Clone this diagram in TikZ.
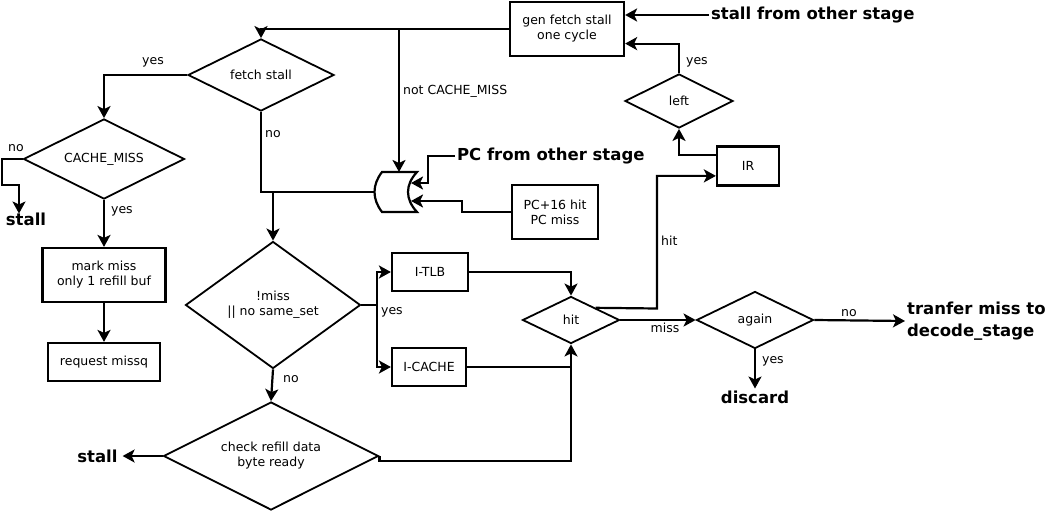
\documentclass[tikz,border=0pt]{standalone}
\usepackage{fontspec}
\setmainfont{DejaVu Sans}
\usetikzlibrary{shapes.geometric,arrows.meta,calc}
\begin{document}
\begin{tikzpicture}[x=1pt,y=-1pt,
  line width=2.2pt,
  every node/.style={font=\fontsize{12.5}{15}\selectfont},
  arr/.style={-{Stealth[length=12pt,width=13pt,inset=3pt]}},
  box/.style={draw,rectangle,line width=2.2pt,inner sep=0pt,align=center},
  dia/.style={draw,diamond,line width=1.8pt,inner sep=0pt,align=center},
  lbl/.style={inner sep=1pt,font=\fontsize{12.5}{15}\selectfont},
  big/.style={inner sep=1pt,align=left,font=\fontsize{16.5}{22}\selectfont\bfseries}]
\useasboundingbox (0,0) rectangle (1056,511);

% boxes
\node[box,minimum width=114pt,minimum height=54pt] (gen) at (567,29) {gen fetch stall\\one cycle};
\node[box,minimum width=123pt,minimum height=54pt] (mark) at (104,275) {mark miss\\only 1 refill buf};
\node[box,minimum width=112pt,minimum height=38pt] (req) at (104,362) {request missq};
\node[box,minimum width=76pt,minimum height=38pt] (itlb) at (430,272) {I-TLB};
\node[box,minimum width=74pt,minimum height=38pt] (icache) at (429,367) {I-CACHE};
\node[box,minimum width=62pt,minimum height=39pt] (ir) at (748,166) {IR};
\node[box,minimum width=86pt,minimum height=54pt] (pc16) at (555,212) {PC+16 hit\\PC miss};

% diamonds
\node[dia,minimum width=146pt,minimum height=72pt,shape aspect=2] (fs) at (261,75) {fetch stall};
\node[dia,minimum width=161pt,minimum height=80pt,shape aspect=2] (cm) at (104,159) {CACHE\_MISS};
\node[dia,minimum width=175pt,minimum height=127pt,shape aspect=1.38] (nm) at (273,305) {!miss\\|| no same\_set};
\node[dia,minimum width=215pt,minimum height=108pt,shape aspect=2] (chk) at (271,456) {check refill data\\byte ready};
\node[dia,minimum width=97pt,minimum height=47pt,shape aspect=2] (hit) at (571,320) {hit};
\node[dia,minimum width=117pt,minimum height=57pt,shape aspect=2] (again) at (755,320) {again};
\node[dia,minimum width=108pt,minimum height=54pt,shape aspect=2] (left) at (679,101) {left};

% OR-like gate
\draw (382,172) -- (417,172) .. controls (405,185) and (405,199) .. (417,212)
      -- (382,212) .. controls (372,199) and (372,185) .. (382,172) -- cycle;
\coordinate (gout) at (375,192);
\coordinate (gtop) at (399,172);
\coordinate (gin1) at (411,183);
\coordinate (gin2) at (411,201);

% big texts
\node[big,anchor=west] (stallother) at (709,15) {stall from other stage};
\node[big,anchor=west] (pcother) at (455,156) {PC from other stage};
\node[big,anchor=west] (tranfer) at (905,321) {tranfer miss to\\decode\_stage};
\node[big] (discard) at (755,397) {discard};
\node[big] (stall1) at (26,219) {stall};

% connectors
\draw[arr] (gen.west) -| (fs.north);
\coordinate (j1) at (399,29);
\draw[arr] (j1) -- (gtop);
\node[lbl,anchor=west] at (401,91) {not CACHE\_MISS};
\draw (fs.south) |- (gout);
\node[lbl,anchor=west] at (263,134) {no};
\coordinate (j2) at (273,192);
\draw[arr] (j2) -- (nm.north);

\draw[arr] (fs.west) -| (cm.north);
\node[lbl] at (153,62) {yes};
\draw[arr] (cm.west) -| (2,185) -| ($(stall1.north)+(-7,3)$);
\node[lbl] at (16,148) {no};
\draw[arr] (cm.south) -- (mark.north);
\node[lbl,anchor=west] at (109,211) {yes};
\draw[arr] (mark.south) -- (req.north);

\coordinate (j3) at (377,305);
\draw (nm.east) -- (j3);
\draw[arr] (j3) |- (itlb.west);
\draw[arr] (j3) |- (icache.west);
\node[lbl,anchor=west] at (379,312) {yes};
\draw[arr] (nm.south) -- (chk.north);
\node[lbl,anchor=west] at (281,379) {no};

\draw[arr] (chk.west) -- ++(-40,0) node[big,anchor=east,inner sep=4pt] (stall2) {stall};
\draw[arr] (chk.east) -- ++(0,5) -| (hit.south);
\draw (icache.east) -- (icache.east -| hit.south);
\draw[arr] (itlb.east) -| (hit.north);

\draw[arr] (hit.north east) -- (657,308.5) |- ($(ir.south west)!0.26!(ir.north west)$);
\node[lbl,anchor=west] at (659,241) {hit};
\draw[arr] (hit.east) -- (again.west);
\node[lbl] at (665,328) {miss};
\draw[arr] (again.east) -- (tranfer.west);
\node[lbl] at (849,313) {no};
\draw[arr] (again.south) -- (discard.north);
\node[lbl,anchor=west] at (760,361) {yes};

\draw[arr] ($(ir.north west)!0.23!(ir.south west)$) -| (left.south);
\draw[arr] (left.north) |- ($(gen.south east)!0.24!(gen.north east)$);
\node[lbl,anchor=west] at (684,62) {yes};
\draw[arr] (stallother.west) -- (gen.east |- stallother.west);

\draw[arr] (pcother.west) -- (428,156) |- (gin1);
\draw[arr] (pc16.west) -- (462,212) |- (gin2);
\end{tikzpicture}
\end{document}
